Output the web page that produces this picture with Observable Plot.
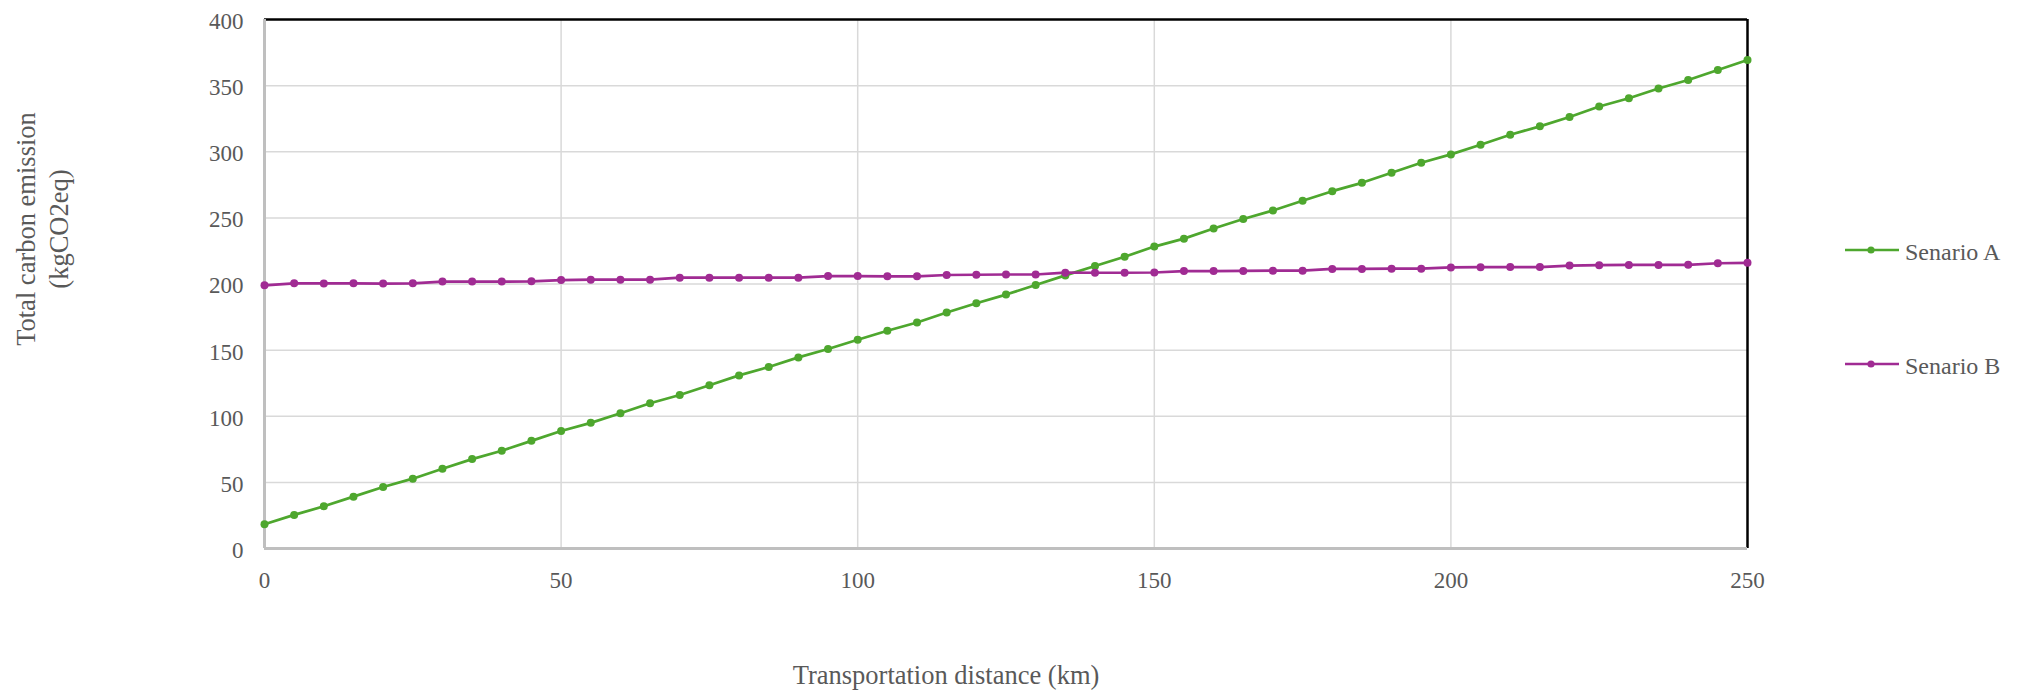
<!DOCTYPE html>
<html>
<head>
<meta charset="utf-8">
<script src="https://cdn.jsdelivr.net/npm/d3@7"></script>
<script src="https://cdn.jsdelivr.net/npm/@observablehq/plot@0.6"></script>
<style>
  html, body { margin: 0; padding: 0; background: #fff; }
  #wrap { position: relative; width: 2020px; height: 692px; font-family: "Liberation Serif", "Times New Roman", serif; color: #595959; }
  #chart { position: absolute; left: 0; top: 0; }
  #chart svg, #chart svg text { font-family: "Liberation Serif", "Times New Roman", serif !important; }
  .ytitle { position: absolute; width: 320px; height: 66px; left: -117px; top: 196px; font-size: 26.5px; line-height: 33px; text-align: center; transform: rotate(-90deg); transform-origin: center; white-space: nowrap; }
  .xtitle { position: absolute; width: 500px; left: 696px; top: 662px; font-size: 26.5px; line-height: 26.5px; text-align: center; white-space: nowrap; }
  .leg { position: absolute; left: 1845px; }
  .leg svg { position: absolute; left: 0; }
  .leg span { position: absolute; left: 60px; font-size: 24px; line-height: 24px; white-space: nowrap; }
</style>
</head>
<body>
<div id="wrap">
  <div id="chart"></div>
  <div class="ytitle">Total carbon emission<br>(kgCO2eq)</div>
  <div class="xtitle">Transportation distance (km)</div>
  <div id="legend"></div>
</div>
<script>
// ---- data ----
const distance = [0,5,10,15,20,25,30,35,40,45,50,55,60,65,70,75,80,85,90,95,100,105,110,115,120,125,130,135,140,145,150,155,160,165,170,175,180,185,190,195,200,205,210,215,220,225,230,235,240,245,250];
const senarioA = [18.3,25.4,31.9,39.2,46.5,52.8,60.3,67.6,73.9,81.4,88.8,95.0,102.3,109.8,116.1,123.4,130.9,137.2,144.5,150.8,157.8,164.6,170.9,178.4,185.4,192.0,199.2,206.5,213.6,220.6,228.3,234.3,241.9,249.2,255.6,262.9,270.2,276.5,284.1,291.7,298.0,305.3,312.9,319.2,326.3,334.2,340.5,347.8,354.2,361.8,369.4];
const senarioB = [199.0,200.5,200.4,200.5,200.3,200.5,201.8,201.8,201.8,202.0,203.0,203.3,203.3,203.3,204.8,204.8,204.8,204.8,204.8,206.0,206.0,205.8,205.8,206.8,207.0,207.2,207.2,208.6,208.5,208.5,208.7,209.8,209.8,209.9,210.1,210.1,211.4,211.4,211.6,211.6,212.5,212.7,212.8,212.8,213.9,214.2,214.4,214.4,214.5,215.7,216.0];
const seriesNames = ["Senario A", "Senario B"];
const seriesColors = ["#4ea72e", "#a02b93"];
const xTicks = [0, 50, 100, 150, 200, 250];
const yTicks = [0, 50, 100, 150, 200, 250, 300, 350, 400];

const rows = [];
distance.forEach((d, i) => {
  rows.push({distance: d, value: senarioA[i], series: seriesNames[0]});
});
distance.forEach((d, i) => {
  rows.push({distance: d, value: senarioB[i], series: seriesNames[1]});
});

const serif = "Liberation Serif, Times New Roman, serif";
const plot = Plot.plot({
  width: 2020,
  height: 692,
  marginLeft: 264,
  marginRight: 273,
  marginTop: 19,
  marginBottom: 144,
  style: {fontFamily: serif, color: "#595959", background: "#fff"},
  x: {domain: [0, 250]},
  y: {domain: [0, 400]},
  color: {domain: seriesNames, range: seriesColors},
  marks: [
    Plot.gridX(xTicks.slice(1, -1), {stroke: "#d9d9d9", strokeOpacity: 1, strokeWidth: 1.5}),
    Plot.gridY(yTicks.slice(1, -1), {stroke: "#d9d9d9", strokeOpacity: 1, strokeWidth: 1.5}),
    Plot.ruleY([400], {stroke: "#000", strokeWidth: 2.3}),
    Plot.ruleX([250], {stroke: "#000", strokeWidth: 2.5}),
    Plot.ruleX([0], {stroke: "#bfbfbf", strokeWidth: 3}),
    Plot.ruleY([0], {stroke: "#bfbfbf", strokeWidth: 3}),
    Plot.axisX(xTicks, {tickSize: 0, tickPadding: 23, fontSize: 23, fontFamily: serif, fill: "#595959", label: null}),
    Plot.axisY(yTicks, {tickSize: 0, tickPadding: 21, fontSize: 23, fontFamily: serif, fill: "#595959", label: null, dy: 2}),
    Plot.line(rows, {x: "distance", y: "value", z: "series", stroke: "series", strokeWidth: 2.7}),
    Plot.dot(rows, {x: "distance", y: "value", fill: "series", r: 4})
  ]
});
document.getElementById("chart").appendChild(plot);

// legend
const legend = document.getElementById("legend");
const legTops = [245, 359];
seriesNames.forEach((name, i) => {
  const div = document.createElement("div");
  div.className = "leg";
  div.style.top = legTops[i] + "px";
  div.innerHTML = `<svg width="54" height="10" style="top:0"><line x1="0" x2="54" y1="5" y2="5" stroke="${seriesColors[i]}" stroke-width="2.7"/><circle cx="26" cy="5" r="3.6" fill="${seriesColors[i]}"/></svg><span style="top:-5px">${name}</span>`;
  legend.appendChild(div);
});
</script>
</body>
</html>
